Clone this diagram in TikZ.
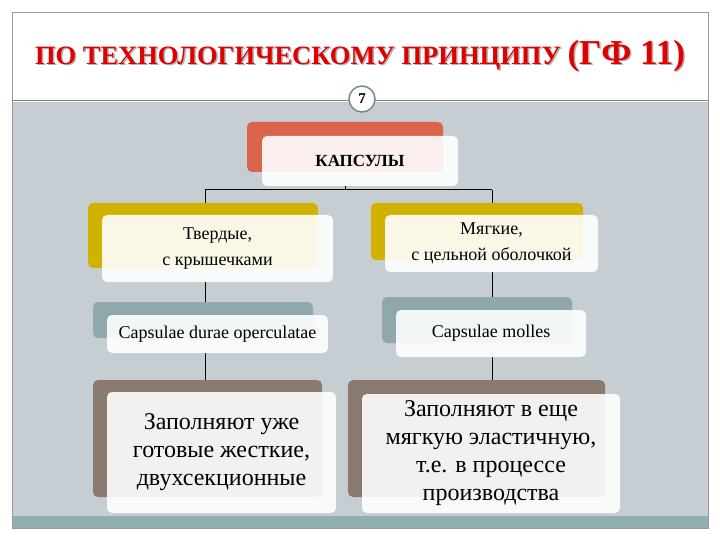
\documentclass[tikz,border=0pt]{standalone}
\usepackage{fontspec}
\setmainfont{Liberation Serif}
\definecolor{bg}{HTML}{C6CED4}
\definecolor{teal}{HTML}{8FAFB0}
\definecolor{ttl}{HTML}{E00000}
\definecolor{rd}{HTML}{D9644B}
\definecolor{yl}{HTML}{D2B200}
\definecolor{tb}{HTML}{8EA8AB}
\definecolor{br}{HTML}{8B7A70}
\tikzset{
 back/.style={rounded corners=5pt},
 front/.style={rounded corners=5pt,fill=white,fill opacity=0.9,text opacity=1,align=center,inner sep=0pt},
 conn/.style={draw=black,line width=1pt}
}
\begin{document}
\begin{tikzpicture}[x=1pt,y=-1pt]
\useasboundingbox (0,0) rectangle (720,540);
\fill[white] (0,0) rectangle (720,540);
\fill[bg] (12,102) rectangle (708,516);
\fill[teal] (12,516) rectangle (708,528);
\draw[gray!80] (12,12) rectangle (708,528);
\draw[gray,line width=1pt] (12,101) -- (708,101);
\node[text=gray!60] (t2) at (361.5,57.5) {\fontsize{26.5}{28}\selectfont\bfseries ПО ТЕХНОЛОГИЧЕСКОМУ ПРИНЦИПУ \fontsize{35}{36}\selectfont(ГФ 11)};
\node[text=ttl] (t) at (360,56) {\fontsize{26.5}{28}\selectfont\bfseries ПО ТЕХНОЛОГИЧЕСКОМУ ПРИНЦИПУ \fontsize{35}{36}\selectfont(ГФ 11)};
\node[circle,draw=teal!80!black,line width=1.5pt,fill=white,minimum size=26pt,inner sep=0pt] (n7) at (362,99) {\fontsize{15}{15}\selectfont\bfseries 7};
% connectors
\coordinate (h1) at (205,190); \coordinate (h2) at (492,190);
\draw[conn] (345,186) -- (345,190) (h1) -- (h2) (h1) -- (205,205) (h2) -- (492,205);
\draw[conn] (205,282) -- (205,302) (492,272) -- (492,297);
\draw[conn] (205,353) -- (205,380) (492,357) -- (492,380);
% capsules
\fill[rd,back] (247,122) rectangle (443,172);
\node[front,minimum width=196pt,minimum height=50pt,font=\fontsize{17}{19}\selectfont\bfseries] (k) at (360,161) {КАПСУЛЫ};
\fill[yl,back] (88,203) rectangle (318,268);
\node[front,minimum width=231pt,minimum height=67pt,font=\fontsize{18}{26}\selectfont] (a1) at (217.5,248.5) {Твердые,\\с крышечками};
\fill[yl,back] (371,203) rectangle (583,260);
\node[front,minimum width=213pt,minimum height=57pt,font=\fontsize{18}{26}\selectfont] (b1) at (491.5,243.5) {Мягкие,\\с цельной оболочкой};
\fill[tb,back] (93,302) rectangle (313,338);
\node[front,minimum width=221pt,minimum height=38pt,font=\fontsize{18}{20}\selectfont] (a2) at (217.5,334) {Capsulae durae operculatae};
\fill[tb,back] (382,297) rectangle (572,343);
\node[front,minimum width=190pt,minimum height=47pt,font=\fontsize{18}{20}\selectfont] (b2) at (491,333.5) {Capsulae molles};
\fill[br,back] (93,380) rectangle (322,497);
\node[front,minimum width=229pt,minimum height=121pt,font=\fontsize{24}{28}\selectfont] (a3) at (221.5,452.5) {Заполняют уже\\готовые жесткие,\\двухсекционные};
\fill[br,back] (348,380) rectangle (605,497);
\node[front,minimum width=258pt,minimum height=119pt,font=\fontsize{24}{28}\selectfont] (b3) at (491,453.5) {Заполняют  в еще\\мягкую эластичную,\\т.е. в процессе\\производства};
\end{tikzpicture}
\end{document}
